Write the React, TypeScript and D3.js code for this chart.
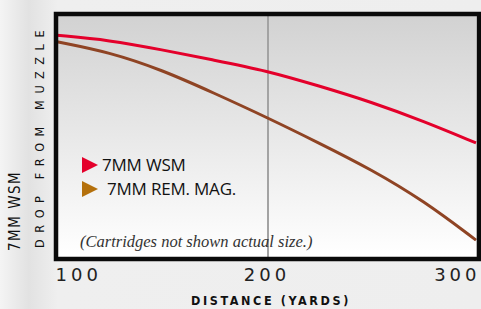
import { useEffect, useRef } from "react";
import * as d3 from "d3";

// distance in yards, drop in (approximate) inches
const distances = [100, 125, 150, 175, 200, 225, 250, 275, 300];
const wsmDrop = [2.4, 3.0, 4.2, 5.5, 6.8, 8.7, 10.7, 13.1, 15.8];
const remMagDrop = [3.2, 4.5, 6.7, 9.6, 12.6, 15.8, 19.1, 23.0, 27.9];
const xTicks = [100, 200, 300];
const legendLabels = ["7MM WSM", "7MM REM. MAG."];

const App = () => {
  const svgRef = useRef<SVGSVGElement | null>(null);

  useEffect(() => {
    const W = 481;
    const H = 309;
    const plot = { left: 57, right: 476, top: 16, bottom: 257 };

    const svg = d3.select(svgRef.current).attr("width", W).attr("height", H);
    svg.selectAll("*").remove();

    const defs = svg.append("defs");
    const bg = defs.append("linearGradient").attr("id", "plotBg").attr("x1", 0).attr("y1", 0).attr("x2", 0).attr("y2", 1);
    bg.append("stop").attr("offset", "0%").attr("stop-color", "#d2d2d2");
    bg.append("stop").attr("offset", "100%").attr("stop-color", "#ffffff");

    const pageBg = defs.append("linearGradient").attr("id", "pageBg").attr("x1", 0).attr("y1", 0).attr("x2", 1).attr("y2", 0);
    pageBg.append("stop").attr("offset", "0%").attr("stop-color", "#f4f4f4");
    pageBg.append("stop").attr("offset", "6%").attr("stop-color", "#e2e2e2");
    pageBg.append("stop").attr("offset", "12%").attr("stop-color", "#efefef");
    pageBg.append("stop").attr("offset", "100%").attr("stop-color", "#eeeeee");

    svg.append("rect").attr("width", W).attr("height", H).attr("fill", "url(#pageBg)");

    const x = d3.scaleLinear().domain([100, 300]).range([plot.left, plot.right]);
    const y = d3.scaleLinear().domain([0, 30]).range([plot.top, plot.bottom]);

    svg
      .append("rect")
      .attr("x", plot.left)
      .attr("y", plot.top)
      .attr("width", plot.right - plot.left)
      .attr("height", plot.bottom - plot.top)
      .attr("fill", "url(#plotBg)");

    svg
      .append("line")
      .attr("x1", x(200) + 1.5)
      .attr("x2", x(200) + 1.5)
      .attr("y1", plot.top)
      .attr("y2", plot.bottom)
      .attr("stroke", "#a3a3a3")
      .attr("stroke-width", 2);

    const line = d3
      .line<number>()
      .x((d, i) => x(distances[i]))
      .y((d) => y(d))
      .curve(d3.curveBasis);

    svg.append("path").attr("d", line(remMagDrop)).attr("fill", "none").attr("stroke", "#8f4424").attr("stroke-width", 3);
    svg.append("path").attr("d", line(wsmDrop)).attr("fill", "none").attr("stroke", "#e4002b").attr("stroke-width", 3);

    // legend
    const legendColors = ["#e4002b", "#b4700c"];
    const legend = svg.append("g");
    legendLabels.forEach((label, i) => {
      const ly = 165 + i * 24;
      legend
        .append("path")
        .attr("d", `M82,${ly - 8} L98,${ly} L82,${ly + 8} Z`)
        .attr("fill", legendColors[i]);
      legend
        .append("text")
        .attr("x", i === 0 ? 102 : 107)
        .attr("y", ly + 6)
        .attr("font-family", "'Open Sans', 'DejaVu Sans', sans-serif")
        .attr("font-size", 17)
        .attr("letter-spacing", -0.2)
        .attr("fill", "#111")
        .text(label);
    });

    svg
      .append("text")
      .attr("x", 80)
      .attr("y", 247)
      .attr("font-family", "'Liberation Serif', 'DejaVu Serif', serif")
      .attr("font-style", "italic")
      .attr("font-size", 16.5)
      .attr("fill", "#333")
      .text("(Cartridges not shown actual size.)");

    // frame
    svg
      .append("rect")
      .attr("x", 56)
      .attr("y", 14)
      .attr("width", 423)
      .attr("height", 245)
      .attr("fill", "none")
      .attr("stroke", "#0a0a0a")
      .attr("stroke-width", 4.5);

    // x axis
    const axis = svg
      .append("g")
      .attr("transform", `translate(0, ${plot.bottom + 2})`)
      .call(d3.axisBottom(x).tickValues(xTicks).tickFormat(d3.format("d")).tickSize(0));
    axis.select(".domain").remove();
    axis
      .selectAll("text")
      .attr("y", 22)
      .attr("dy", 0)
      .attr("fill", "#222")
      .attr("font-size", 18)
      .attr("font-family", "'DejaVu Sans', sans-serif")
      .attr("letter-spacing", 4)
      .attr("text-anchor", (d, i) => (i === 0 ? "start" : i === xTicks.length - 1 ? "end" : "middle"))
      .attr("dx", (d, i) => (i === 0 ? -2 : i === xTicks.length - 1 ? 4 : 0));

    svg
      .append("text")
      .attr("x", 271)
      .attr("y", 305)
      .attr("text-anchor", "middle")
      .attr("font-family", "'DejaVu Sans Condensed', sans-serif")
      .attr("font-weight", "bold")
      .attr("font-size", 12.5)
      .attr("letter-spacing", 2.6)
      .attr("fill", "#111")
      .text("DISTANCE (YARDS)");

    // y labels
    svg
      .append("text")
      .attr("transform", "translate(44, 248) rotate(-90)")
      .attr("font-family", "'DejaVu Sans Condensed', sans-serif")
      .attr("font-size", 12.5)
      .attr("letter-spacing", 6.6)
      .attr("fill", "#111")
      .text("DROP FROM MUZZLE");

    svg
      .append("text")
      .attr("transform", "translate(20, 251) rotate(-90)")
      .attr("font-family", "'DejaVu Sans Condensed', sans-serif")
      .attr("font-size", 15)
      .attr("letter-spacing", 1.5)
      .attr("fill", "#111")
      .text("7MM WSM");
  }, []);

  return <svg ref={svgRef} style={{ position: "absolute", left: 0, top: 0, display: "block" }} />;
};

export default App;
